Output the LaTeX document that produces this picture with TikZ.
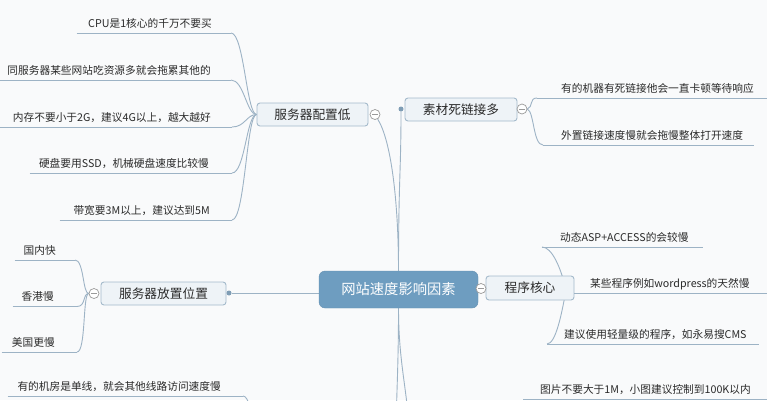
\documentclass[tikz,border=0pt]{standalone}
\usepackage{fontspec}
\setmainfont{Noto Sans CJK SC}
\definecolor{bgc}{HTML}{F9FAFB}
\definecolor{wire}{HTML}{9DB3C5}
\definecolor{nfill}{HTML}{EEF3F7}
\definecolor{nborder}{HTML}{A4BACB}
\definecolor{cfill}{HTML}{6E9DC0}
\definecolor{txt}{HTML}{2A2A2A}
\definecolor{dotc}{HTML}{7F9DB5}
\definecolor{foldc}{HTML}{9A9A9A}
\pgfdeclarelayer{back}
\pgfdeclarelayer{wires}
\pgfsetlayers{back,wires,main}
\newcommand\Lbox[3]{\makebox[#1pt][r]{#3\hspace*{#2pt}}}
\newcommand\Rbox[3]{\makebox[#1pt][l]{\hspace*{#2pt}#3}}
\begin{document}
\begin{tikzpicture}[x=1pt,y=-1pt,
  wirec/.style={draw=wire, line width=0.9pt},
  topic/.style={draw=nborder, fill=nfill, line width=0.9pt, rounded corners=3pt,
    font=\fontsize{12.7}{14}\selectfont, text=txt, inner sep=0pt, minimum height=23pt},
  root/.style={draw=cfill!92!black, fill=cfill, rounded corners=6pt,
    font=\fontsize{14.3}{16}\selectfont, text=white, inner sep=0pt,
    minimum width=159pt, minimum height=37pt},
  leaf/.style={inner sep=0pt, text height=9pt, text depth=5.5pt,
    font=\fontsize{10.7}{12}\selectfont, text=txt,
    append after command={(\tikzlastnode.south west) edge[wirec] (\tikzlastnode.south east)}},
  fold/.style={circle, draw=foldc, fill=white, line width=0.7pt, minimum size=10pt, inner sep=0pt,
    path picture={\draw[foldc, line width=0.8pt] ([xshift=-3pt]path picture bounding box.center) -- ([xshift=3pt]path picture bounding box.center);}},
  dotm/.style={circle, fill=dotc, minimum size=5pt, inner sep=0pt}
]
\useasboundingbox (0,0) rectangle (767,400);
\begin{pgfonlayer}{back}
  \fill[bgc] (0,0) rectangle (767,400);
\end{pgfonlayer}

% main topics
\node[root] (C) at (398.5,289.5) {网站速度影响因素};
\node[topic, minimum width=111pt] (A) at (312.5,114.5) {服务器配置低};
\node[topic, minimum width=112pt] (B) at (461,109.5) {素材死链接多};
\node[topic, minimum width=125pt] (D) at (163.5,293.5) {服务器放置位置};
\node[topic, minimum width=88pt, minimum height=24pt] (E) at (530,288) {程序核心};

% folds and dots
\node[fold] (fA) at (375,114.5) {};
\node[fold] (fB) at (522,109) {};
\node[fold] (fD) at (94,293.5) {};
\node[fold] (fC) at (481,288.5) {};
\node[dotm] (dB) at (401,109) {};
\node[dotm] (dD) at (229,293) {};

% leaves
\node[leaf, anchor=south east] (a1) at (231,33) {\Lbox{154}{19}{CPU是1核心的千万不要买}};
\node[leaf, anchor=south east] (a2) at (231,80) {\Lbox{243}{20}{同服务器某些网站吃资源多就会拖累其他的}};
\node[leaf, anchor=south east] (a3) at (232,127) {\Lbox{242}{21}{内存不要小于2G，建议4G以上，越大越好}};
\node[leaf, anchor=south east] (a4) at (232,173) {\Lbox{202}{23}{硬盘要用SSD，机械硬盘速度比较慢}};
\node[leaf, anchor=south east] (a5) at (232,220) {\Lbox{172}{22}{带宽要3M以上，建议达到5M}};
\node[leaf, anchor=south east] (d1) at (75,260) {\Lbox{60}{19}{国内快}};
\node[leaf, anchor=south east] (d2) at (77,306.5) {\Lbox{64}{23}{香港慢}};
\node[leaf, anchor=south east] (d3) at (77,352) {\Lbox{75}{22}{美国更慢}};
\node[leaf, anchor=south east] (g1) at (243,396) {\Lbox{235}{22}{有的机房是单线，就会其他线路访问速度慢}};
\node[leaf, anchor=south west] (b1) at (537,98) {\Rbox{241}{24}{有的机器有死链接他会一直卡顿等待响应}};
\node[leaf, anchor=south west] (b2) at (543,145) {\Rbox{211}{18}{外置链接速度慢就会拖慢整体打开速度}};
\node[leaf, anchor=south west] (e1) at (542,247) {\Rbox{161}{18}{动态ASP+ACCESS的会较慢}};
\node[leaf, anchor=south west] (e2) at (574,293) {\Rbox{195}{16}{某些程序例如wordpress的天然慢}};
\node[leaf, anchor=south west] (e3) at (547,344) {\Rbox{212}{17}{建议使用轻量级的程序，如永易搜CMS}};
\node[leaf, anchor=south west] (f1) at (523,399) {\Rbox{248}{17}{图片不要大于1M，小图建议控制到100K以内}};

\coordinate (cb1) at (396,425);
\coordinate (cb2) at (409,425);
\coordinate (g1x) at (252,425);
\coordinate (eC) at (566,290);

\begin{pgfonlayer}{wires}
  % root to main topics
  \draw[wirec] (C.north) .. controls +(0,-70) and (391,140) .. (fA.-60);
  \draw[wirec] (C.north) .. controls +(0,-90) and +(0,60) .. (dB.south);
  \draw[wirec] (C.west |- dD) -- (dD);
  \draw[wirec] (C.south) .. controls +(0,50) and +(1,-40) .. (cb1);
  \draw[wirec] (C.south) .. controls +(0,50) and +(-3,-40) .. (cb2);
  % server config children
  \foreach \n in {a1,a2,a3,a4,a5}
    \draw[wirec] (A.west) .. controls +(-10,0) and +(13,0) .. (\n.south east);
  % placement children
  \foreach \n in {d1,d2,d3}
    \draw[wirec] (fD.west) .. controls +(-6,0) and +(9,0) .. (\n.south east);
  % dead links children
  \draw[wirec] (fB.east) .. controls +(6,-2) and +(-8,0) .. (b1.south west);
  \draw[wirec] (fB.east) .. controls +(7,3) and +(-10,0) .. (b2.south west);
  % program core children
  \draw[wirec] (e1.south west) .. controls +(10,0) and +(-5,-22) .. (eC);
  \draw[wirec] (e2.south west) -- (eC);
  \draw[wirec] (e3.south west) .. controls +(9,0) and +(-4,22) .. (eC);
  % bottom left branch
  \draw[wirec] (g1.south east) .. controls +(6,0) and +(0,-10) .. (g1x);
\end{pgfonlayer}
\end{tikzpicture}
\end{document}
